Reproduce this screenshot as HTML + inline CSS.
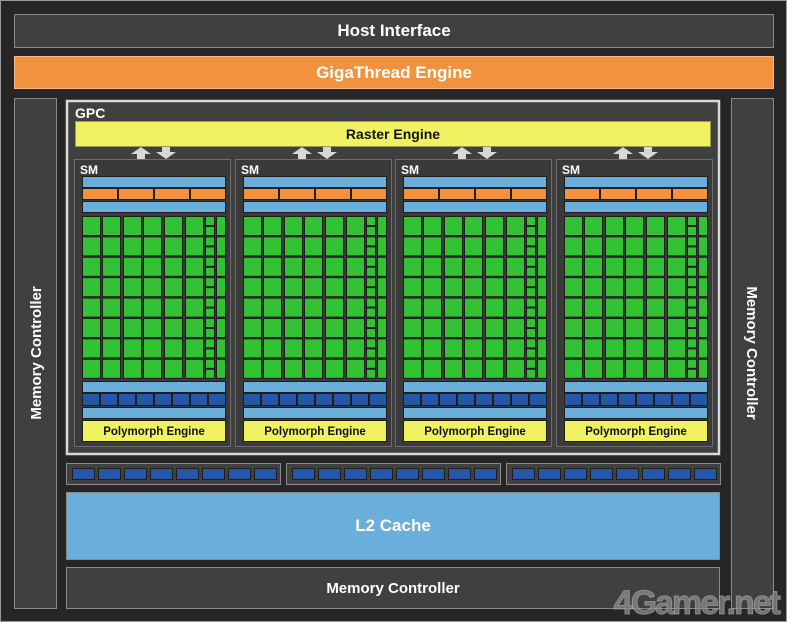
<!DOCTYPE html>
<html><head><meta charset="utf-8">
<style>
html,body{margin:0;padding:0;background:#262626;}
svg{display:block;}
text{font-family:"Liberation Sans",sans-serif;font-weight:bold;}
</style></head>
<body>
<svg id="s" width="787" height="622" xmlns="http://www.w3.org/2000/svg">
<rect x="0.5" y="0.5" width="786" height="621" fill="#262626" stroke="#9a9a9a"/>
<rect x="14.5" y="14.5" width="759" height="33" fill="#404040" stroke="#8a8a8a"/>
<text x="394" y="36" font-size="17" fill="#fff" text-anchor="middle">Host Interface</text>
<rect x="14.5" y="56.5" width="759" height="32" fill="#f2923e" stroke="#f6b88a"/>
<text x="394" y="78" font-size="17" fill="#fff" text-anchor="middle">GigaThread Engine</text>
<rect x="14.5" y="98.5" width="42" height="510" fill="#404040" stroke="#8a8a8a"/>
<text transform="translate(41,353) rotate(-90)" font-size="15" fill="#fff" text-anchor="middle">Memory Controller</text>
<rect x="731.5" y="98.5" width="42" height="510" fill="#404040" stroke="#8a8a8a"/>
<text transform="translate(747,353) rotate(90)" font-size="15" fill="#fff" text-anchor="middle">Memory Controller</text>
<rect x="67" y="101" width="652" height="353" fill="#404040" stroke="#d8d8d8" stroke-width="2.5"/>
<text x="75" y="118" font-size="14" fill="#fff">GPC</text>
<rect x="75.5" y="121.5" width="635" height="25" fill="#f0f261" stroke="#9a9a50"/>
<text x="393" y="139" font-size="14" fill="#111" text-anchor="middle">Raster Engine</text>
<g id="sms"></g>
<g id="l2s"></g>
<rect x="66.5" y="492.5" width="653" height="67" fill="#6aaedb" stroke="#8a8a8a"/>
<text x="393" y="531" font-size="17" fill="#fff" text-anchor="middle">L2 Cache</text>
<rect x="66.5" y="567.5" width="653" height="41" fill="#404040" stroke="#8a8a8a"/>
<text x="393" y="593" font-size="15" fill="#fff" text-anchor="middle">Memory Controller</text>
<text x="779" y="614" font-size="34" fill="#8a8a8a" fill-opacity="0.75" stroke="#bbb" stroke-opacity="0.5" stroke-width="1" text-anchor="end" letter-spacing="-2">4Gamer.net</text>
</svg>
<script>
var NS="http://www.w3.org/2000/svg";
function el(p,t,a){var e=document.createElementNS(NS,t);for(var k in a)e.setAttribute(k,a[k]);p.appendChild(e);return e;}
var g=document.getElementById("sms");
var xs=[74,235,395,556];
xs.forEach(function(x0){
  el(g,"rect",{x:x0+0.5,y:159.5,width:156,height:287,fill:"#3a3a3a",stroke:"#6e6e6e"});
  var t=el(g,"text",{x:x0+6,y:174,"font-size":12,fill:"#fff"});t.textContent="SM";
  var ix=x0+8,iw=144;
  var ax=x0+57;
  el(g,"polygon",{points:(ax)+",154 "+(ax+10)+",147 "+(ax+20)+",154 "+(ax+14)+",154 "+(ax+14)+",159 "+(ax+6)+",159 "+(ax+6)+",154",fill:"#d8d8d8"});
  var bx=x0+82;
  el(g,"polygon",{points:(bx+6)+",147 "+(bx+14)+",147 "+(bx+14)+",152 "+(bx+20)+",152 "+(bx+10)+",159 "+bx+",152 "+(bx+6)+",152",fill:"#d8d8d8"});
  function bar(y,h,c){el(g,"rect",{x:ix+0.5,y:y+0.5,width:iw-1,height:h,fill:c,stroke:"#1e1e1e"});}
  bar(176,11,"#6aaedb");
  for(var i=0;i<4;i++)el(g,"rect",{x:ix+i*36+0.5,y:188.5,width:35,height:11,fill:"#f2923e",stroke:"#1e1e1e"});
  bar(201,11,"#6aaedb");
  var cx=[0,20,41,61,82,103];
  for(var r=0;r<8;r++){
    var y=216+r*20.4;
    cx.forEach(function(c){el(g,"rect",{x:ix+c+0.5,y:y+0.5,width:18,height:19,fill:"#33c233",stroke:"#1e1e1e"});});
    el(g,"rect",{x:ix+123.5,y:y+0.5,width:9,height:9,fill:"#33c233",stroke:"#1e1e1e"});
    el(g,"rect",{x:ix+123.5,y:y+10.5,width:9,height:9,fill:"#33c233",stroke:"#1e1e1e"});
    el(g,"rect",{x:ix+134.5,y:y+0.5,width:9,height:19,fill:"#33c233",stroke:"#1e1e1e"});
  }
  bar(381,11,"#6aaedb");
  for(var i=0;i<8;i++)el(g,"rect",{x:ix+i*18+0.5,y:393.5,width:17,height:12,fill:"#2556a8",stroke:"#1e1e1e"});
  bar(407,11,"#6aaedb");
  el(g,"rect",{x:ix+0.5,y:420.5,width:iw-1,height:21,fill:"#f0f261",stroke:"#1e1e1e"});
  var p=el(g,"text",{x:ix+iw/2,y:435,"font-size":11.5,fill:"#111","text-anchor":"middle"});p.textContent="Polymorph Engine";
});
var l=document.getElementById("l2s");
[66,286,506].forEach(function(x0){
  el(l,"rect",{x:x0+0.5,y:463.5,width:214,height:21,fill:"#404040",stroke:"#8a8a8a"});
  for(var i=0;i<8;i++)el(l,"rect",{x:x0+6.5+i*26,y:468.5,width:22,height:11,fill:"#2556a8",stroke:"#1e1e1e"});
});
</script>
</body></html>
